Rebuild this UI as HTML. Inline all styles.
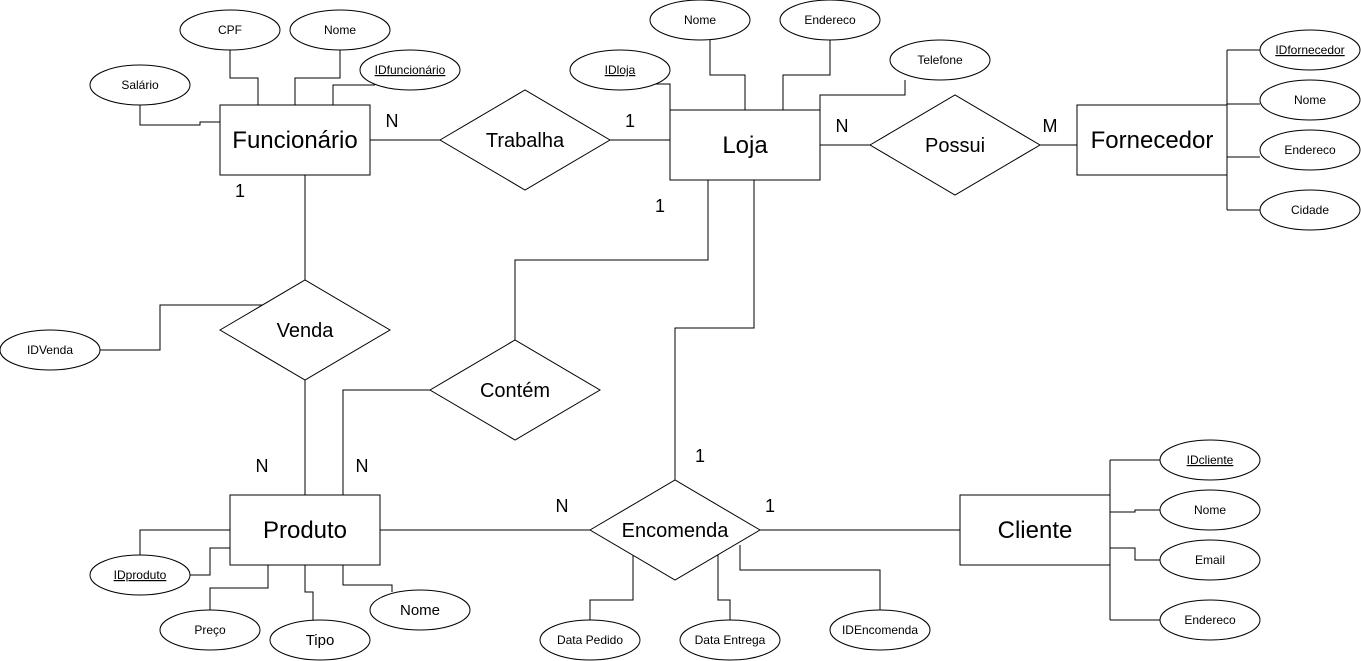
<!DOCTYPE html>
<html><head><meta charset="utf-8"><style>
html,body{margin:0;padding:0;background:#fff;}
svg{display:block;}
text{font-family:"Liberation Sans",sans-serif;fill:#000;}
</style></head><body>
<svg width="1361" height="661" viewBox="0 0 1361 661" xmlns="http://www.w3.org/2000/svg">
<g fill="none" stroke="#000" stroke-width="1">
<polyline points="230,50 230,78 258,78 258,105"/>
<polyline points="340,50 340,78 295,78 295,105"/>
<polyline points="375,85 333,85 333,105"/>
<polyline points="140,105 140,125 200,125 200,122 220,122"/>
<line x1="370" y1="140" x2="440" y2="140"/>
<line x1="610" y1="140" x2="670" y2="140"/>
<polyline points="710,40 710,75 745,75 745,110"/>
<polyline points="830,40 830,75 783,75 783,110"/>
<polyline points="655,84 670,84 670,110"/>
<polyline points="905,80 905,95 820,95 820,110"/>
<line x1="820" y1="145" x2="870" y2="145"/>
<line x1="1040" y1="145" x2="1077" y2="145"/>
<line x1="1227" y1="50" x2="1227" y2="210"/>
<line x1="1227" y1="50" x2="1260" y2="50"/>
<line x1="1227" y1="104" x2="1260" y2="104"/>
<line x1="1227" y1="157" x2="1260" y2="157"/>
<line x1="1227" y1="210" x2="1260" y2="210"/>
<polyline points="305,175 305,228 305,280"/>
<polyline points="100,350 160,350 160,305 262,305"/>
<line x1="305" y1="380" x2="305" y2="495"/>
<polyline points="515,340 515,260 708,260 708,180"/>
<polyline points="430,390 343,390 343,495"/>
<polyline points="754,180 754,328 675,328 675,480"/>
<line x1="380" y1="530" x2="590" y2="530"/>
<line x1="760" y1="530" x2="960" y2="530"/>
<polyline points="633,555 633,600 590,600 590,620"/>
<polyline points="718,555 718,600 730,600 730,620"/>
<polyline points="740,545 740,570 880,570 880,610"/>
<line x1="1110" y1="460" x2="1110" y2="620"/>
<line x1="1110" y1="460" x2="1160" y2="460"/>
<polyline points="1110,512 1135,512 1135,510 1160,510"/>
<polyline points="1110,548 1135,548 1135,560 1160,560"/>
<line x1="1110" y1="620" x2="1160" y2="620"/>
<polyline points="230,530 140,530 140,555"/>
<polyline points="190,575 210,575 210,548 230,548"/>
<polyline points="268,565 268,588 210,588 210,610"/>
<polyline points="305,565 305,592 313,592 313,620"/>
<polyline points="343,565 343,585 392,585 392,592"/>
</g>
<g fill="#fff" stroke="#000" stroke-width="1">
<rect x="220" y="105" width="150" height="70"/>
<rect x="670" y="110" width="150" height="70"/>
<rect x="1077" y="105" width="150" height="70"/>
<rect x="230" y="495" width="150" height="70"/>
<rect x="960" y="495" width="150" height="70"/>
<polygon points="440,140 525,90 610,140 525,190"/>
<polygon points="870,145 955,95 1040,145 955,195"/>
<polygon points="220,330 305,280 390,330 305,380"/>
<polygon points="430,390 515,340 600,390 515,440"/>
<polygon points="590,530 675,480 760,530 675,580"/>
<ellipse cx="230" cy="30" rx="50" ry="20"/>
<ellipse cx="340" cy="30" rx="50" ry="20"/>
<ellipse cx="410" cy="70" rx="50" ry="20"/>
<ellipse cx="140" cy="85" rx="50" ry="20"/>
<ellipse cx="700" cy="20" rx="50" ry="20"/>
<ellipse cx="830" cy="20" rx="50" ry="20"/>
<ellipse cx="620" cy="70" rx="50" ry="20"/>
<ellipse cx="940" cy="60" rx="50" ry="20"/>
<ellipse cx="1310" cy="50" rx="50" ry="20"/>
<ellipse cx="1310" cy="100" rx="50" ry="20"/>
<ellipse cx="1310" cy="150" rx="50" ry="20"/>
<ellipse cx="1310" cy="210" rx="50" ry="20"/>
<ellipse cx="50" cy="350" rx="50" ry="20"/>
<ellipse cx="140" cy="575" rx="50" ry="20"/>
<ellipse cx="210" cy="630" rx="50" ry="20"/>
<ellipse cx="320" cy="640" rx="50" ry="20"/>
<ellipse cx="420" cy="610" rx="50" ry="20"/>
<ellipse cx="590" cy="640" rx="50" ry="20"/>
<ellipse cx="730" cy="640" rx="50" ry="20"/>
<ellipse cx="880" cy="630" rx="50" ry="20"/>
<ellipse cx="1210" cy="460" rx="50" ry="20"/>
<ellipse cx="1210" cy="510" rx="50" ry="20"/>
<ellipse cx="1210" cy="560" rx="50" ry="20"/>
<ellipse cx="1210" cy="620" rx="50" ry="20"/>
</g>
<g text-anchor="middle" font-size="24">
<text x="295" y="148">Funcionário</text>
<text x="745" y="153">Loja</text>
<text x="1152" y="148">Fornecedor</text>
<text x="305" y="538">Produto</text>
<text x="1035" y="538">Cliente</text>
</g>
<g text-anchor="middle" font-size="20">
<text x="525" y="147">Trabalha</text>
<text x="955" y="152">Possui</text>
<text x="305" y="337">Venda</text>
<text x="515" y="397">Contém</text>
<text x="675" y="537">Encomenda</text>
</g>
<g font-size="18" text-anchor="middle">
<text x="392" y="127">N</text>
<text x="630" y="127">1</text>
<text x="240" y="197">1</text>
<text x="660" y="212">1</text>
<text x="842" y="132">N</text>
<text x="1050" y="132">M</text>
<text x="262" y="472">N</text>
<text x="362" y="472">N</text>
<text x="700" y="462">1</text>
<text x="562" y="512">N</text>
<text x="770" y="512">1</text>
</g>
<g font-size="12" text-anchor="middle">
<text x="230" y="34">CPF</text>
<text x="340" y="34">Nome</text>
<text x="410" y="74" text-decoration="underline">IDfuncionário</text>
<text x="140" y="89">Salário</text>
<text x="700" y="24">Nome</text>
<text x="830" y="24">Endereco</text>
<text x="620" y="74" text-decoration="underline">IDloja</text>
<text x="940" y="64">Telefone</text>
<text x="1310" y="54" text-decoration="underline">IDfornecedor</text>
<text x="1310" y="104">Nome</text>
<text x="1310" y="154">Endereco</text>
<text x="1310" y="214">Cidade</text>
<text x="50" y="354">IDVenda</text>
<text x="140" y="579" text-decoration="underline">IDproduto</text>
<text x="210" y="634">Preço</text>
<text x="320" y="645" font-size="15">Tipo</text>
<text x="420" y="615" font-size="15">Nome</text>
<text x="590" y="644">Data Pedido</text>
<text x="730" y="644">Data Entrega</text>
<text x="880" y="634">IDEncomenda</text>
<text x="1210" y="464" text-decoration="underline">IDcliente</text>
<text x="1210" y="514">Nome</text>
<text x="1210" y="564">Email</text>
<text x="1210" y="624">Endereco</text>
</g>
</svg>
</body></html>
